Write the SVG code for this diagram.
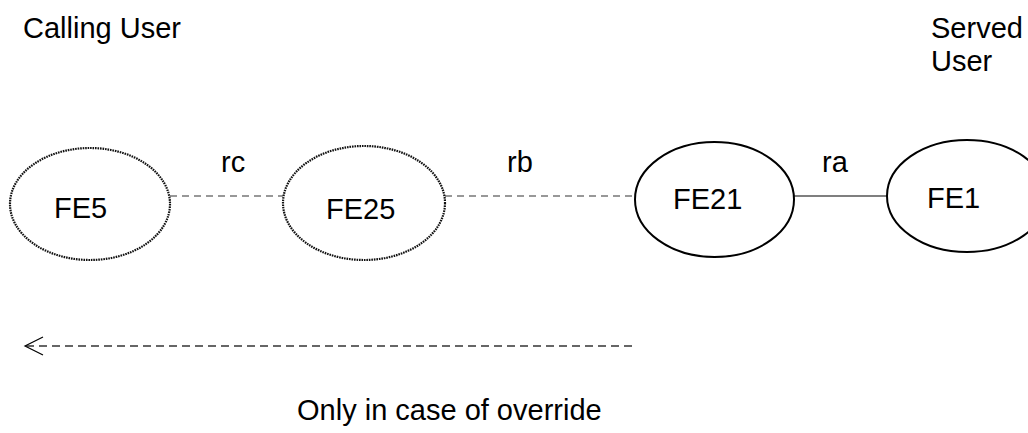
<svg xmlns="http://www.w3.org/2000/svg" width="1028" height="433" viewBox="0 0 1028 433">
<defs>
<style>
text{font-family:"Liberation Sans",Arial,sans-serif;font-size:29px;fill:#000}
.rough{fill:none;stroke:#111;stroke-width:2.2;stroke-dasharray:1.6 0.9}
.solid{fill:none;stroke:#000;stroke-width:2}
.dash{stroke:#333;stroke-width:1.2;stroke-dasharray:7 5;fill:none}
.dash2{stroke:#666;stroke-width:1.8;stroke-dasharray:8 5;fill:none}
</style>
<marker id="openArrow" markerWidth="22" markerHeight="22" refX="19" refY="10" orient="auto" markerUnits="userSpaceOnUse">
<path d="M1,1 L19,10 L1,19" fill="none" stroke="#000" stroke-width="1.2"/>
</marker>
</defs>
<rect width="1028" height="433" fill="#fff"/>
<g id="labels">
<text x="23" y="38">Calling User</text>
<text x="931" y="38">Served</text>
<text x="931" y="71">User</text>
<text x="297" y="420">Only in case of override</text>
</g>
<g id="connectors">
<line class="dash" x1="170" y1="196" x2="283" y2="196"/>
<line class="dash" x1="445" y1="196" x2="635" y2="196"/>
<line x1="794" y1="196" x2="887" y2="196" stroke="#000" stroke-width="1.2"/>
<line class="dash2" x1="632" y1="346" x2="25" y2="346" marker-end="url(#openArrow)"/>
<text x="221" y="172">rc</text>
<text x="507" y="172">rb</text>
<text x="822" y="172">ra</text>
</g>
<g id="FE5">
<ellipse class="rough" cx="90" cy="204" rx="80" ry="56"/>
<text x="54" y="218">FE5</text>
</g>
<g id="FE25">
<ellipse class="rough" cx="364" cy="203" rx="81" ry="57"/>
<text x="326" y="219">FE25</text>
</g>
<g id="FE21">
<ellipse class="solid" cx="714.5" cy="199.5" rx="79.5" ry="57.5"/>
<text x="673" y="209">FE21</text>
</g>
<g id="FE1">
<ellipse class="solid" cx="967" cy="196" rx="80" ry="56"/>
<text x="927" y="208">FE1</text>
</g>
</svg>
